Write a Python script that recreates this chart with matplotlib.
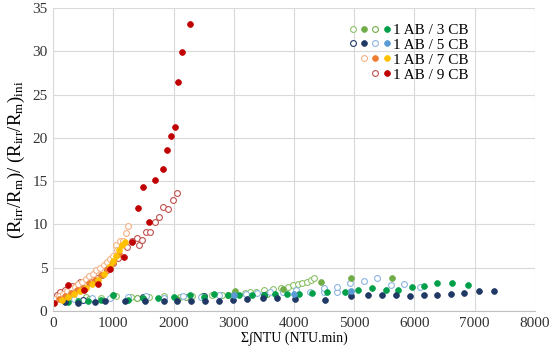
import matplotlib
matplotlib.use("Agg")
import matplotlib.pyplot as plt
from matplotlib.lines import Line2D
from matplotlib.legend_handler import HandlerTuple

plt.rcParams['font.family'] = ['Liberation Serif', 'DejaVu Serif']
plt.rcParams['mathtext.fontset'] = 'custom'
plt.rcParams['mathtext.rm'] = 'Liberation Serif'
plt.rcParams['mathtext.it'] = 'Liberation Serif:italic'

# ---------------- data ----------------
# 1 AB / 3 CB
g3_open_x = [100, 300, 550, 800, 1050, 1300, 1600, 1850, 2100, 2300, 2470, 2640, 2800, 3000, 3190, 3270, 3370,
             3500, 3650, 3780, 3900, 3990, 4060, 4140, 4210, 4280, 4340]
g3_open_y = [1.6, 1.5, 1.6, 1.5, 1.7, 1.6, 1.6, 1.7, 1.6, 1.7, 1.7, 1.8, 1.9, 2.0, 2.1, 2.2, 2.2,
             2.4, 2.5, 2.7, 2.8, 3.0, 3.1, 3.2, 3.4, 3.6, 3.8]
g3_fill_x = [1000, 2050, 3020, 3820, 4450, 4950, 5630]
g3_fill_y = [1.8, 1.4, 2.3, 2.5, 3.4, 3.8, 3.8]
g3b_open_x = [600, 1400, 2200, 2900, 3550]
g3b_open_y = [1.4, 1.5, 1.6, 1.8, 2.0]
g3b_fill_x = [250, 420, 580, 800, 1000, 1250, 1500, 1750, 2000, 2270, 2500, 2680, 2900, 3090, 3310, 3500, 3690,
              3880, 4080, 4300, 4550, 4850, 5070, 5290, 5520, 5730, 5960, 6160, 6370, 6620, 6890]
g3b_fill_y = [1.0, 1.1, 1.2, 1.3, 1.8, 1.3, 1.5, 1.5, 1.6, 1.8, 1.6, 2.0, 1.9, 1.8, 1.8, 1.9, 2.0,
              2.0, 2.0, 2.1, 2.2, 2.2, 2.4, 2.7, 2.4, 2.4, 2.8, 2.9, 3.2, 3.2, 3.0]

# 1 AB / 5 CB
b5_open_x = [100, 500, 1500, 2500, 3500]
b5_open_y = [1.5, 1.3, 1.6, 1.7, 1.8]
b5_fill_x = [200, 420, 700, 860, 1200, 1530, 1840, 2060, 2290, 2520, 2760, 2990, 3220, 3480, 3720, 4020,
             4510, 4950, 5220, 5460, 5690, 5930, 6150, 6380, 6600, 6820, 7070, 7320]
b5_fill_y = [1.0, 0.9, 1.0, 1.1, 1.2, 1.2, 1.2, 1.2, 1.1, 1.1, 1.2, 1.3, 1.4, 1.5, 1.5, 1.4,
             1.3, 1.7, 1.8, 1.8, 1.8, 1.7, 1.9, 1.9, 2.0, 2.1, 2.3, 2.3]
b5b_open_x = [100, 350, 650, 950, 1250, 1550, 1850, 2150, 2450, 2750, 3000, 3200, 3380, 3600, 3820, 4030,
              4270, 4490, 4500, 4710, 4710, 4930, 4930, 5160, 5380, 5610, 5830, 6090]
b5b_open_y = [1.5, 1.4, 1.5, 1.5, 1.6, 1.7, 1.5, 1.7, 1.6, 1.8, 1.9, 2.0, 2.1, 2.2, 2.2, 2.4,
              2.2, 2.2, 2.7, 2.2, 2.8, 2.2, 3.2, 3.5, 3.8, 3.0, 3.1, 2.8]
b5b_fill_x = [3000, 4000, 4950]
b5b_fill_y = [1.9, 2.0, 2.3]

# 1 AB / 7 CB
o7_open_x = [30, 100, 170, 240, 300, 360, 420, 480, 540, 600, 660, 720, 780, 840, 900, 950, 1000, 1040,
             1060, 1110, 1160, 1210, 1250]
o7_open_y = [1.4, 1.7, 2.0, 2.3, 2.6, 2.8, 3.1, 3.4, 3.7, 4.0, 4.3, 4.7, 5.0, 5.3, 5.7, 6.0, 6.4, 7.6,
             7.0, 8.1, 8.1, 9.0, 9.8]
o7_fill_x = [100, 200, 300, 400, 500, 600, 700, 800, 900, 1000, 1100]
o7_fill_y = [1.4, 1.7, 2.1, 2.4, 2.7, 3.2, 3.6, 4.2, 4.9, 5.7, 6.6]
y7_fill_x = [150, 250, 350, 450, 550, 650, 750, 850, 950, 1000, 1050, 1100, 1150, 1200]
y7_fill_y = [1.3, 1.6, 2.0, 2.3, 2.6, 3.1, 3.6, 4.3, 5.2, 5.8, 6.4, 7.0, 7.6, 8.0]

# 1 AB / 9 CB
r9_open_x = [10, 60, 115, 200, 320, 400, 450, 530, 610, 730, 810, 890, 1000, 1080, 1230, 1310, 1390, 1430,
             1480, 1540, 1610, 1690, 1760, 1830, 1910, 1990, 2060]
r9_open_y = [1.6, 1.8, 2.2, 2.4, 2.9, 3.0, 3.3, 3.2, 3.3, 3.8, 4.2, 4.7, 5.5, 6.1, 7.4, 8.1, 8.4, 7.6,
             8.2, 9.1, 9.1, 10.3, 10.9, 12.0, 11.8, 12.8, 13.6]
r9_fill_x = [15, 250, 515, 750, 940, 1180, 1310, 1410, 1500, 1590, 1690, 1830, 1900, 1960, 2030, 2080, 2140, 2270]
r9_fill_y = [0.9, 3.0, 2.4, 3.1, 4.9, 6.2, 8.0, 11.9, 14.3, 10.3, 15.1, 16.4, 18.6, 20.2, 21.3, 26.5, 29.9, 33.2]

labels = ['1 AB / 3 CB', '1 AB / 5 CB', '1 AB / 7 CB', '1 AB / 9 CB']
x_ticks = [0, 1000, 2000, 3000, 4000, 5000, 6000, 7000, 8000]
y_ticks = [0, 5, 10, 15, 20, 25, 30, 35]

# ---------------- colours ----------------
c_lgreen = '#8CC168'
c_lgreen2 = '#70AD47'
c_green = '#00A04A'
c_navy = '#1F3864'
c_lblue = '#8DB4E2'
c_blue = '#5B9BD5'
c_orange = '#ED7D31'
c_lorange = '#F4B183'
c_gold = '#FFC000'
c_red = '#C00000'
c_lred = '#C0504D'

fig = plt.figure(figsize=(5.5, 3.57), dpi=100)
ax = fig.add_axes([0.0964, 0.1289, 0.8763, 0.8487])

ms = 4.2
ew = 0.8

def open_(x, y, c):
    return ax.plot(x, y, 'o', ls='none', ms=ms, mfc='white', mec=c, mew=ew)[0]

def fill_(x, y, c):
    return ax.plot(x, y, 'o', ls='none', ms=ms, mfc=c, mec=c, mew=0.5)[0]

h_g1 = open_(g3_open_x, g3_open_y, c_lgreen)
h_g3o = open_(g3b_open_x, g3b_open_y, c_lgreen2)
h_b1 = open_(b5_open_x, b5_open_y, c_navy)
h_b3 = open_(b5b_open_x, b5b_open_y, c_lblue)
h_r1 = open_(r9_open_x, r9_open_y, c_lred)
h_o1 = open_(o7_open_x, o7_open_y, c_lorange)
h_g2 = fill_(g3_fill_x, g3_fill_y, c_lgreen2)
h_g4 = fill_(g3b_fill_x, g3b_fill_y, c_green)
h_b2 = fill_(b5_fill_x, b5_fill_y, c_navy)
h_b4 = fill_(b5b_fill_x, b5b_fill_y, c_blue)
h_o2 = fill_(o7_fill_x, o7_fill_y, c_orange)
h_o3 = fill_(y7_fill_x, y7_fill_y, c_gold)
h_r2 = fill_(r9_fill_x, r9_fill_y, c_red)

blank = Line2D([], [], ls='none', marker=None)

ax.set_xlim(0, 8000)
ax.set_ylim(0, 35)
ax.set_xticks(x_ticks)
ax.set_yticks(y_ticks)
ax.grid(True, color='#D9D9D9', lw=0.8)
ax.set_axisbelow(True)
for s in ['top', 'right']:
    ax.spines[s].set_visible(False)
ax.spines['left'].set_color('#D9D9D9')
ax.spines['bottom'].set_color('#BFBFBF')
ax.tick_params(length=0, labelsize=11, pad=4, colors='#333333')

ax.set_xlabel('Σ∫NTU (NTU.min)', fontsize=10, labelpad=2)
ax.set_ylabel(r'$\mathregular{(R_{irr}/R_m)/\ (R_{irr}/R_m)_{ini}}$', fontsize=13.5, labelpad=4)

handles = [(h_g1, h_g2, h_g3o, h_g4),
           (h_b1, h_b2, h_b3, h_b4),
           (blank, h_o1, h_o2, h_o3),
           (blank, blank, h_r1, h_r2)]
leg = ax.legend(handles, labels, handler_map={tuple: HandlerTuple(ndivide=None, pad=0.25)},
                loc='upper right', bbox_to_anchor=(0.885, 0.985), frameon=False,
                fontsize=11, handlelength=2.7, handletextpad=0.2, labelspacing=0.08,
                borderpad=0.2)

fig.savefig('out.png', dpi=100)
